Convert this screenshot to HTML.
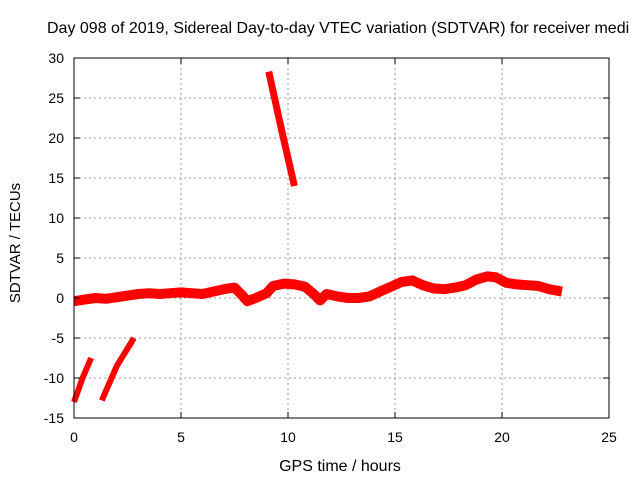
<!DOCTYPE html>
<html><head><meta charset="utf-8"><style>
body{margin:0;background:#fff;}
svg{display:block;font-family:"Liberation Sans",sans-serif;}
</style></head><body>
<svg id="chart" width="640" height="480">
<text x="47" y="33" font-size="16">Day 098 of 2019, Sidereal Day-to-day VTEC variation (SDTVAR) for receiver medi</text>
<text x="340" y="471" font-size="16" text-anchor="middle">GPS time / hours</text>
<text transform="translate(20,243) rotate(-90)" font-size="15" text-anchor="middle">SDTVAR / TECUs</text>
<g id="grid"></g><g id="series"></g>
<rect x="74" y="58" width="535" height="360" fill="none" stroke="#000" stroke-width="1"/>
<g id="ticks"></g>
</svg>
<script>
const xTicks=[0,5,10,15,20,25];
const yTicks=[-15,-10,-5,0,5,10,15,20,25,30];
const mainX=[0,0.5,1,1.5,2,2.5,3,3.5,4,4.5,5,5.5,6,6.5,7,7.5,7.8,8.1,8.5,9,9.3,9.8,10.3,10.8,11.2,11.5,11.8,12.3,12.8,13.3,13.8,14.3,14.8,15.3,15.8,16.3,16.8,17.3,17.8,18.3,18.8,19.3,19.7,20.2,20.7,21.2,21.7,22.2,22.8];
const mainY=[-0.4,-0.2,0,-0.1,0.1,0.3,0.5,0.6,0.5,0.6,0.7,0.6,0.5,0.8,1.1,1.3,0.5,-0.4,0,0.6,1.5,1.8,1.7,1.4,0.5,-0.3,0.5,0.2,0,0,0.2,0.8,1.4,2,2.2,1.6,1.2,1.1,1.3,1.6,2.3,2.7,2.6,1.9,1.7,1.6,1.5,1.1,0.8];
const seg1X=[0,0.4,0.8];const seg1Y=[-13,-10,-7.5];
const seg2X=[1.3,2,2.8];const seg2Y=[-12.8,-8.5,-5];
const seg3X=[9.1,9.7,10.3];const seg3Y=[28.3,21,14];
const X0=74,X1=609,Y0=418,Y1=58;
const sx=v=>X0+(v-0)/25*(X1-X0);
const sy=v=>Y0-(v+15)/45*(Y0-Y1);
const NS='http://www.w3.org/2000/svg';
const grid=document.getElementById('grid'),ticks=document.getElementById('ticks'),ser=document.getElementById('series');
function mk(tag,a,p){const e=document.createElementNS(NS,tag);for(const k in a)e.setAttribute(k,a[k]);p.appendChild(e);return e;}
xTicks.forEach(t=>{const x=sx(t);
 if(t>0&&t<25){const g=mk('line',{x1:x,x2:x,y1:Y1,y2:Y0,stroke:'#999','stroke-dasharray':'2,3'},grid);
 
 }
 mk('line',{x1:x,x2:x,y1:Y0,y2:Y0-6,stroke:'#000'},ticks);mk('line',{x1:x,x2:x,y1:Y1,y2:Y1+6,stroke:'#000'},ticks);
 const l=mk('text',{x:x,y:Y0+24,'font-size':14,'text-anchor':'middle'},ticks);l.textContent=t;
 
 });
yTicks.forEach(t=>{const y=sy(t);
 if(t>-15&&t<30){const g=mk('line',{x1:X0,x2:X1,y1:y,y2:y,stroke:'#999','stroke-dasharray':'2,3'},grid);
 
 }
 mk('line',{x1:X0,x2:X0+6,y1:y,y2:y,stroke:'#000'},ticks);mk('line',{x1:X1,x2:X1-6,y1:y,y2:y,stroke:'#000'},ticks);
 const l=mk('text',{x:X0-10,y:y+5,'font-size':14,'text-anchor':'end'},ticks);l.textContent=t;
 
 });
function line(xs,ys,w,name){const p=mk('polyline',{points:xs.map((x,i)=>sx(x)+','+sy(ys[i])).join(' '),fill:'none',stroke:'#f00','stroke-width':w,'stroke-linejoin':'round'},ser);
 
 }
line(mainX,mainY,10,'sdtvar-main-series');
line(seg1X,seg1Y,6,'sdtvar-segment-1');
line(seg2X,seg2Y,6,'sdtvar-segment-2');
line(seg3X,seg3Y,7,'sdtvar-segment-3');
</script>
</body></html>
